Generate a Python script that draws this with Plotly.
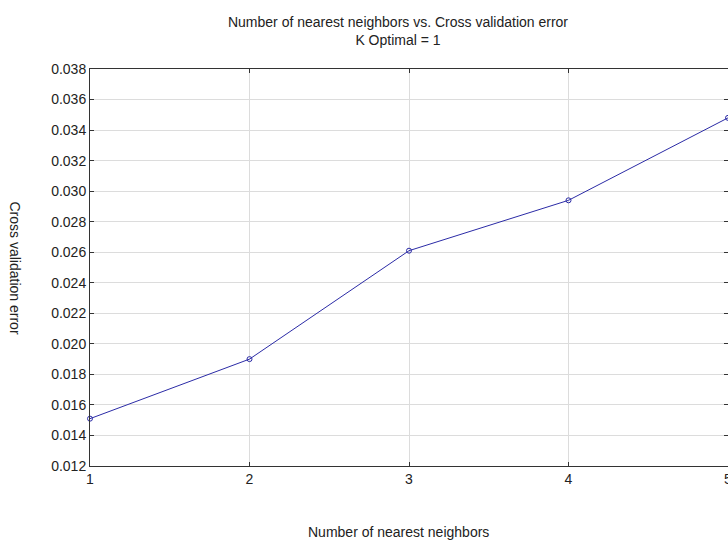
import plotly.graph_objects as go

k_values = [1, 2, 3, 4, 5]
cv_error = [0.0151, 0.0190, 0.0261, 0.0294, 0.0348]
y_ticks = [0.012, 0.014, 0.016, 0.018, 0.020, 0.022, 0.024, 0.026, 0.028,
           0.030, 0.032, 0.034, 0.036, 0.038]
y_tick_labels = [f"{v:.3f}" for v in y_ticks]
x_ticks = [1, 2, 3, 4, 5]

FONT = "Liberation Sans, Arial, sans-serif"
LINE_COLOR = "#2b2ba6"
TXT = "#222222"

fig = go.Figure()
fig.add_trace(go.Scatter(
    x=k_values, y=cv_error, mode="lines+markers",
    line=dict(color=LINE_COLOR, width=1),
    marker=dict(symbol="circle-open", size=5, color=LINE_COLOR, line=dict(width=1)),
    cliponaxis=False, showlegend=False,
))

axis_common = dict(
    showline=True, linecolor="#333333", linewidth=1, mirror="ticks",
    ticks="inside", ticklen=4, tickcolor="#333333",
    showgrid=True, gridcolor="#dcdcdc", gridwidth=1, zeroline=False,
    tickfont=dict(family=FONT, size=14, color=TXT), automargin=False,
    ticklabeloverflow="allow",
)

fig.update_xaxes(range=[1, 5], tickvals=x_ticks, ticktext=[str(v) for v in x_ticks],
                 **axis_common)
fig.update_yaxes(range=[0.012, 0.038], tickvals=y_ticks, ticktext=y_tick_labels,
                 **axis_common)

fig.update_layout(
    width=728, height=543, template="none",
    paper_bgcolor="white", plot_bgcolor="white",
    margin=dict(l=90, r=0, t=69, b=77),
    font=dict(family=FONT, size=14, color=TXT),
    title=dict(text="Number of nearest neighbors vs. Cross validation error<br>K Optimal = 1",
               x=398/728, xanchor="center", y=1 - 27/543, yanchor="middle",
               font=dict(family=FONT, size=14, color=TXT)),
    annotations=[
        dict(text="Number of nearest neighbors", xref="paper", yref="paper",
             x=(398-90)/638, y=-(532-466)/397, xanchor="center", yanchor="middle",
             showarrow=False, font=dict(family=FONT, size=14, color=TXT)),
        dict(text="Cross validation error", xref="paper", yref="paper",
             x=-(90-15)/638, y=0.5, xanchor="center", yanchor="middle", textangle=90,
             showarrow=False, font=dict(family=FONT, size=14, color=TXT)),
    ],
)

fig.write_html("out.html")
